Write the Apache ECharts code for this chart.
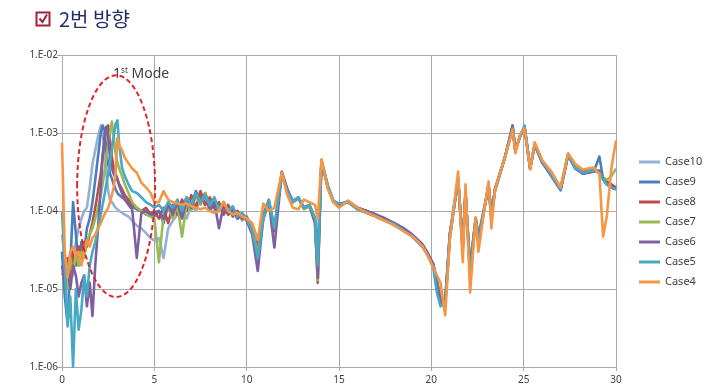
<!DOCTYPE html>
<html><head><meta charset="utf-8">
<script src="https://cdn.jsdelivr.net/npm/echarts@6/dist/echarts.min.js"></script>
<style>html,body{margin:0;padding:0;background:#fff}#c{width:710px;height:388px}</style>
</head><body><div id="c"></div>
<script>
// ---- data (x in shared grid, y values) ----
const xValues = [
  0,0.15,0.3,0.45,0.6,0.75,0.9,1.05,1.2,1.35,1.5,1.65,1.8,1.95,
  2.1,2.2,2.3,2.4,2.5,2.6,2.7,2.8,2.9,3.0,3.1,
  3.25,3.4,3.6,3.8,4.05,4.3,4.55,4.8,5.0,
  5.25,5.5,5.75,6,6.25,6.5,6.75,7,7.25,7.5,7.75,8,8.25,8.5,8.75,9,9.25,9.5,9.75,10,
  10.3,10.6,10.9,11.2,11.5,11.9,12.2,12.5,12.8,13.1,13.4,13.7,13.85,14.05,14.4,14.7,15.0,
  15.5,16,16.5,17,17.5,18,18.5,19,19.5,19.8,20.1,20.3,20.5,20.75,
  21.0,21.45,21.7,21.85,22.1,22.4,22.55,22.8,23.1,23.25,23.45,
  24.0,24.4,24.55,24.8,25.05,25.35,25.6,26.0,26.5,27.0,27.4,27.8,28.2,28.8,
  29.1,29.3,29.5,29.75,30
];
const case10 = [
  5e-5,2.5e-5,1.5e-5,3e-5,2e-5,4e-5,6e-5,8e-5,1.0e-4,1.1e-4,2e-4,4e-4,6e-4,9e-4,
  1.25e-3,1.2e-3,7e-4,3e-4,1.8e-4,1.4e-4,1.3e-4,1.2e-4,1.1e-4,1.05e-4,1.0e-4,
  9.5e-5,9e-5,8.5e-5,7.5e-5,6.5e-5,6e-5,5.2e-5,4.5e-5,4.2e-5,
  4.5e-5,2.5e-5,6e-5,7.5e-5,9e-5,1.0e-4,8e-5,1.2e-4,1.0e-4,1.5e-4,1.2e-4,1.4e-4,1.0e-4,1.2e-4,9e-5,1.1e-4,8.5e-5,1.0e-4,7.5e-5,8.5e-5,
  6e-5,3e-5,8e-5,1.3e-4,6e-5,2.9e-4,1.8e-4,1.3e-4,1.45e-4,1.1e-4,1.15e-4,8e-5,2.5e-5,4.3e-4,2e-4,1.3e-4,1.2e-4,
  1.3e-4,1.05e-4,9.5e-5,8.5e-5,7.5e-5,6.7e-5,5.7e-5,4.7e-5,3.6e-5,2.8e-5,2.0e-5,1.2e-5,7e-6,6e-6,
  5e-5,2.5e-4,4e-5,1.6e-4,2e-5,8e-5,5e-5,9e-5,2e-4,1e-4,1.8e-4,
  5e-4,1.15e-3,6e-4,9e-4,1.15e-3,3.6e-4,7e-4,4.3e-4,2.9e-4,1.9e-4,5.2e-4,3.6e-4,3.1e-4,3.3e-4,
  3.2e-4,2.6e-4,2.3e-4,2.1e-4,1.95e-4
];
const case9 = [
  3e-5,8e-6,3.7e-6,2e-5,1.3e-4,5e-5,2e-5,4e-5,3e-5,6e-5,8e-5,1.3e-4,2.5e-4,5e-4,
  1.0e-3,1.25e-3,1.1e-3,6e-4,4e-4,3e-4,2.6e-4,2.2e-4,1.9e-4,1.7e-4,1.6e-4,
  1.5e-4,1.4e-4,1.3e-4,1.15e-4,1.05e-4,1.0e-4,9e-5,9.5e-5,8.5e-5,
  1.0e-4,7e-5,1.2e-4,9e-5,1.3e-4,1.1e-4,1.5e-4,1.2e-4,1.8e-4,1.4e-4,1.7e-4,1.2e-4,1.4e-4,1.0e-4,1.3e-4,9e-5,1.1e-4,8e-5,9e-5,8e-5,
  6e-5,3e-5,9e-5,1.4e-4,6e-5,3.2e-4,1.9e-4,1.35e-4,1.5e-4,1.1e-4,1.2e-4,8e-5,3e-5,4.4e-4,2.1e-4,1.35e-4,1.2e-4,
  1.3e-4,1.1e-4,1.0e-4,9e-5,8e-5,7e-5,6e-5,4.9e-5,3.7e-5,2.9e-5,2.0e-5,1.1e-5,6.5e-6,7e-6,
  5e-5,2.6e-4,3.5e-5,1.7e-4,1.8e-5,8e-5,4.5e-5,9e-5,2.1e-4,9e-5,1.9e-4,
  5e-4,1.25e-3,6e-4,9e-4,1.2e-3,3.5e-4,7e-4,4.2e-4,2.8e-4,1.85e-4,5.2e-4,3.5e-4,3e-4,3.2e-4,
  5e-4,2.6e-4,2.2e-4,2e-4,1.9e-4
];
const case8 = [
  2e-5,1.5e-5,2.5e-5,1.2e-5,3e-5,2e-5,3.5e-5,2.5e-5,4e-5,3.5e-5,5e-5,7e-5,1.1e-4,1.8e-4,
  3e-4,5e-4,8e-4,1.15e-3,1.25e-3,8e-4,5e-4,3.5e-4,3e-4,2.6e-4,2.2e-4,
  1.9e-4,1.6e-4,1.4e-4,1.2e-4,1.1e-4,1.0e-4,1.1e-4,9e-5,1.0e-4,
  8e-5,1.1e-4,7e-5,1.2e-4,9e-5,1.4e-4,1.0e-4,1.6e-4,1.1e-4,1.8e-4,1.2e-4,1.5e-4,1.1e-4,1.3e-4,9e-5,1.2e-4,8.5e-5,1.0e-4,8e-5,8.5e-5,
  5.5e-5,3.5e-5,8.5e-5,1.3e-4,5.5e-5,3e-4,1.8e-4,1.3e-4,1.45e-4,1.1e-4,1.15e-4,7.5e-5,1.2e-5,4.3e-4,2e-4,1.3e-4,1.2e-4,
  1.3e-4,1.05e-4,9.5e-5,8.5e-5,7.6e-5,6.8e-5,5.8e-5,4.8e-5,3.7e-5,2.8e-5,2.1e-5,1.3e-5,7e-6,6.5e-6,
  4.5e-5,2.6e-4,3e-5,1.8e-4,1.5e-5,8e-5,4e-5,8.5e-5,2.2e-4,8e-5,1.9e-4,
  5e-4,1.2e-3,5.8e-4,9.2e-4,1.15e-3,3.5e-4,7.2e-4,4.4e-4,3e-4,1.95e-4,5.3e-4,3.6e-4,3.2e-4,3.4e-4,
  3.2e-4,2.7e-4,2.4e-4,2.2e-4,2e-4
];
const case7 = [
  1.5e-5,2e-5,1e-5,2.5e-5,1.5e-5,3e-5,2e-5,3e-5,2.5e-5,4e-5,5e-5,6e-5,8e-5,1.1e-4,
  1.6e-4,2.2e-4,3.2e-4,4.8e-4,7e-4,1.0e-3,1.4e-3,9e-4,5.5e-4,4.2e-4,3.5e-4,
  2.8e-4,2.2e-4,1.7e-4,1.3e-4,1.1e-4,1.0e-4,9e-5,8.5e-5,8e-5,
  2.2e-5,9e-5,1.1e-4,8e-5,1.2e-4,4.7e-5,1.3e-4,1.0e-4,1.6e-4,1.2e-4,1.7e-4,1.1e-4,1.4e-4,1.0e-4,1.2e-4,9e-5,1.05e-4,8e-5,9e-5,8e-5,
  6e-5,2.8e-5,8e-5,1.3e-4,6e-5,2.9e-4,1.8e-4,1.3e-4,1.45e-4,1.05e-4,1.15e-4,7e-5,1.3e-5,4.4e-4,2e-4,1.3e-4,1.2e-4,
  1.3e-4,1.05e-4,9.5e-5,8.5e-5,7.5e-5,6.7e-5,5.7e-5,4.7e-5,3.6e-5,2.8e-5,2.0e-5,1.3e-5,8e-6,6e-6,
  5e-5,2.5e-4,4e-5,1.6e-4,2e-5,8e-5,5e-5,9e-5,2e-4,1e-4,1.8e-4,
  5e-4,1.15e-3,6e-4,9e-4,1.15e-3,3.6e-4,7e-4,4.3e-4,2.9e-4,1.9e-4,5.2e-4,3.6e-4,3.1e-4,3.3e-4,
  3.2e-4,2.7e-4,2.5e-4,2.8e-4,3.5e-4
];
const case6 = [
  2e-5,1.2e-5,2e-5,1e-5,2e-5,1.5e-5,8e-6,1.2e-5,1.5e-5,6e-6,1.2e-5,4.5e-6,2e-5,6e-5,
  2e-4,5e-4,9e-4,1.2e-3,9e-4,5e-4,3.5e-4,3e-4,2.7e-4,2.5e-4,2.1e-4,
  1.7e-4,1.4e-4,1.2e-4,1.05e-4,2.5e-5,9.5e-5,1.0e-4,9e-5,9.5e-5,
  1.0e-4,8e-5,1.2e-4,9e-5,1.3e-4,8e-5,1.4e-4,1.1e-4,1.7e-4,1.3e-4,1.6e-4,1.0e-4,1.3e-4,6e-5,1.2e-4,9e-5,1.05e-4,8e-5,9e-5,7.5e-5,
  5e-5,1.7e-5,8e-5,1.3e-4,3.4e-5,3.1e-4,1.9e-4,1.3e-4,1.5e-4,1.1e-4,1.2e-4,7e-5,1.4e-5,4.2e-4,2e-4,1.3e-4,1.2e-4,
  1.35e-4,1.1e-4,1.0e-4,9e-5,8e-5,7e-5,6e-5,4.9e-5,3.8e-5,2.9e-5,2.1e-5,1.2e-5,7e-6,7e-6,
  5e-5,2.5e-4,3.5e-5,1.7e-4,1.8e-5,8e-5,4.5e-5,9e-5,2.1e-4,9e-5,1.9e-4,
  5e-4,1.25e-3,6e-4,9e-4,1.2e-3,3.5e-4,7e-4,4.2e-4,2.8e-4,1.85e-4,5.2e-4,3.5e-4,3e-4,3.2e-4,
  3.3e-4,2.6e-4,2.2e-4,2e-4,1.9e-4
];
const case5 = [
  1e-4,2e-5,3.3e-6,8e-6,1e-6,1e-5,3e-6,5.4e-6,1.5e-5,8e-6,2e-5,3e-5,4e-5,6e-5,
  9e-5,1.2e-4,1.6e-4,2.2e-4,3e-4,4.2e-4,6e-4,9e-4,1.3e-3,1.45e-3,7e-4,
  3.6e-4,2.8e-4,2.2e-4,1.8e-4,1.7e-4,1.5e-4,1.3e-4,1.2e-4,1.1e-4,
  1.2e-4,1.0e-4,1.3e-4,1.1e-4,1.4e-4,1.0e-4,1.5e-4,1.2e-4,1.7e-4,1.3e-4,1.6e-4,1.2e-4,1.5e-4,1.05e-4,1.3e-4,1.0e-4,1.15e-4,8.5e-5,9.5e-5,8e-5,
  5.5e-5,2.5e-5,8e-5,1.35e-4,6e-5,3e-4,1.8e-4,1.3e-4,1.5e-4,1.1e-4,1.2e-4,8e-5,2e-5,4.5e-4,2.1e-4,1.35e-4,1.25e-4,
  1.3e-4,1.05e-4,9.5e-5,8.5e-5,7.5e-5,6.8e-5,5.6e-5,4.6e-5,3.5e-5,2.7e-5,1.9e-5,9e-6,6e-6,6.5e-6,
  4.5e-5,2.6e-4,3e-5,1.8e-4,1.5e-5,8e-5,4e-5,8.5e-5,2.2e-4,8e-5,1.9e-4,
  5e-4,1.15e-3,6e-4,9e-4,1.25e-3,3.5e-4,7.2e-4,4.3e-4,2.9e-4,1.9e-4,5.2e-4,3.6e-4,3.1e-4,3.3e-4,
  3.1e-4,2.5e-4,2.2e-4,2e-4,1.9e-4
];
const case4 = [
  7.5e-4,3e-5,1.4e-5,3e-5,3.5e-5,2.6e-5,3e-5,2e-5,3e-5,4.2e-5,3.5e-5,4.5e-5,5e-5,6e-5,
  7e-5,8e-5,9e-5,1.0e-4,1.1e-4,1.3e-4,1.6e-4,2e-4,3e-4,8.7e-4,7e-4,
  6e-4,4.8e-4,4.1e-4,3.5e-4,3.1e-4,2.3e-4,2e-4,1.7e-4,1.3e-4,
  1.3e-4,1.8e-4,1.4e-4,1.3e-4,1.25e-4,1.2e-4,1.25e-4,1.15e-4,1.1e-4,1.05e-4,1.1e-4,1.0e-4,9.5e-5,1.0e-4,1.3e-4,1.0e-4,9e-5,9.5e-5,8.5e-5,8e-5,
  7e-5,4.3e-5,1.25e-4,1.0e-4,1.1e-4,3.1e-4,1.6e-4,1.1e-4,1.05e-4,1.4e-4,1.3e-4,1.2e-4,8e-5,4.6e-4,1.9e-4,1.3e-4,1.1e-4,
  1.35e-4,1.1e-4,9.5e-5,8.5e-5,7.5e-5,6.5e-5,5.5e-5,4.7e-5,3.6e-5,2.7e-5,1.9e-5,1.5e-5,1.2e-5,4.6e-6,
  4.3e-5,3.2e-4,2.2e-5,2.2e-4,9e-6,8.3e-5,3e-5,8e-5,2.4e-4,6e-5,1.9e-4,
  5e-4,1.1e-3,5.5e-4,9.5e-4,1.15e-3,3.4e-4,7.6e-4,4.5e-4,3.2e-4,2.0e-4,5.5e-4,4e-4,3.4e-4,3.6e-4,
  3.0e-4,4.7e-5,8.5e-5,3.5e-4,8e-4
];
const seriesNames = ['Case10','Case9','Case8','Case7','Case6','Case5','Case4'];
const seriesValues = [case10, case9, case8, case7, case6, case5, case4];
const seriesColors = ['#93b0d8','#4a7ebb','#be4b48','#98b954','#7d60a0','#46aac5','#f69545'];
const yTickLabels = {'-6':'1.E-06','-5':'1.E-05','-4':'1.E-04','-3':'1.E-03','-2':'1.E-02'};
const titleText = '2번 방향';
const modeLabel = ['1', 'st', ' Mode'];

const chart = echarts.init(document.getElementById('c'), null, {renderer:'canvas'});
const gridColor = '#a9a9a9';
const series = seriesNames.map((n, i) => ({
  name: n, type: 'line', showSymbol: false, symbol: 'none',
  data: xValues.map((x, k) => [x, seriesValues[i][k]]),
  lineStyle: {width: 2.6, color: seriesColors[i], join: 'round'},
  itemStyle: {color: seriesColors[i]},
  z: 2 + i, animation: false
}));
chart.setOption({
  animation: false,
  grid: {left: 62, right: 94, top: 55, bottom: 21},
  xAxis: {
    type: 'value', min: 0, max: 30, interval: 5,
    axisLine: {show: true, lineStyle: {color: gridColor, width: 1}},
    axisTick: {show: true, length: 4, lineStyle: {color: gridColor}},
    splitLine: {show: true, lineStyle: {color: gridColor, width: 1}},
    axisLabel: {color: '#404040', fontSize: 10, fontFamily: 'Noto Sans', margin: 8}
  },
  yAxis: {
    type: 'log', logBase: 10, min: 1e-6, max: 1e-2,
    axisLine: {show: true, lineStyle: {color: gridColor, width: 1}},
    axisTick: {show: true, length: 5, lineStyle: {color: gridColor}},
    splitLine: {show: true, lineStyle: {color: gridColor, width: 1}},
    minorTick: {show: false},
    axisLabel: {color: '#404040', fontSize: 10, fontFamily: 'Noto Sans', margin: 4,
      formatter: v => yTickLabels[String(Math.round(Math.log10(v)))] || ''}
  },
  legend: {
    orient: 'vertical', left: 634, top: 151,
    icon: 'rect', itemWidth: 21, itemHeight: 3, itemGap: 8,
    textStyle: {color: '#404040', fontSize: 11, fontFamily: 'Noto Sans', lineHeight: 12},
    data: seriesNames
  },
  series: series
});

// annotations: ellipse around first mode, anchored on data coordinates
const cPt = chart.convertToPixel({gridIndex: 0}, [2.93, 2.1e-4]);
const lPt = chart.convertToPixel({gridIndex: 0}, [0.82, 2.1e-4]);
const tPt = chart.convertToPixel({gridIndex: 0}, [2.93, 5.5e-3]);
const bPt = chart.convertToPixel({gridIndex: 0}, [2.93, 7.9e-6]);
const rx = cPt[0] - lPt[0];
const ry = (bPt[1] - tPt[1]) / 2;
const cy = (bPt[1] + tPt[1]) / 2;

chart.setOption({
  graphic: [
    {type: 'rect', shape: {x: 36.5, y: 12.5, width: 13, height: 13},
     style: {fill: 'none', stroke: '#a3233a', lineWidth: 2}, z: 100},
    {type: 'polyline', shape: {points: [[39.5, 18.5], [42.5, 22], [47, 14.5]]},
     style: {fill: 'none', stroke: '#a3233a', lineWidth: 2}, z: 100},
    {type: 'text', x: 59, y: 19, z: 100,
     style: {text: titleText, fill: '#272b6b', font: '20px "Noto Sans CJK KR"', textVerticalAlign: 'middle'}},
    {type: 'ellipse', shape: {cx: cPt[0], cy: cy, rx: rx, ry: ry},
     style: {fill: 'none', stroke: '#e0262c', lineWidth: 2, lineDash: [5, 3]}, z: 100},
    {type: 'text', x: tPt[0] - 3, y: tPt[1] - 1, z: 101,
     style: {
       text: '{a|' + modeLabel[0] + '}{b|' + modeLabel[1] + '}{a|' + modeLabel[2] + '}',
       textVerticalAlign: 'middle',
       rich: {
         a: {fontSize: 14, fontFamily: 'Noto Sans', fill: '#404040', lineHeight: 16},
         b: {fontSize: 8, fontFamily: 'Noto Sans', fill: '#404040', lineHeight: 16, verticalAlign: 'top'}
       }
     }}
  ]
});
</script>
</body></html>
